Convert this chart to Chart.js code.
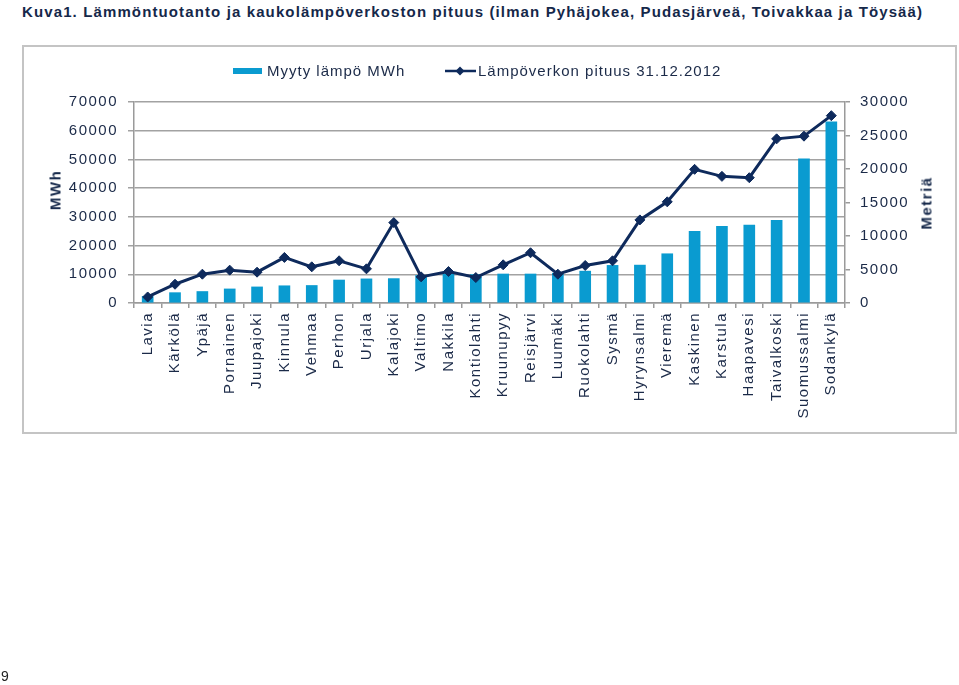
<!DOCTYPE html>
<html>
<head>
<meta charset="utf-8">
<script src="https://cdn.jsdelivr.net/npm/chart.js@4/dist/chart.umd.min.js"></script>
<style>
  html, body { margin: 0; padding: 0; background: #fff; }
  body { width: 959px; height: 685px; position: relative; overflow: hidden; font-family: "Liberation Sans", Arial, sans-serif; color: #1b2a48; }
  #title { position: absolute; left: 22px; top: 3px; font-size: 15px; font-weight: bold; letter-spacing: 1.12px; white-space: nowrap; color: #15284a; }
  #box { position: absolute; left: 22px; top: 45px; width: 931px; height: 385px; border: 2px solid #c4c4c4; box-sizing: content-box; }
  #wrap { position: absolute; left: 0; top: 0; width: 959px; height: 685px; }
  .leg { position: absolute; top: 62px; font-size: 15px; letter-spacing: 1px; white-space: nowrap; color: #1b2a48; }
  .ytitle { position: absolute; font-size: 15px; font-weight: bold; letter-spacing: 1.5px; white-space: nowrap; transform: translate(-50%, -50%) rotate(-90deg); color: #15284a; }
  #page { position: absolute; left: 1px; top: 668px; font-size: 14px; color: #222; }
</style>
</head>
<body>
<div id="title">Kuva1. Lämmöntuotanto ja kaukolämpöverkoston pituus (ilman Pyhäjokea, Pudasjärveä, Toivakkaa ja Töysää)</div>
<div id="box"></div>
<div id="wrap"><canvas id="c"></canvas></div>
<div class="leg" style="left:233px;"><span style="display:inline-block;width:29px;height:6px;background:#0a9bd0;vertical-align:middle;margin-right:5px;position:relative;top:-1px;"></span>Myyty lämpö MWh</div>
<div class="leg" style="left:445px;"><svg width="31" height="12" style="vertical-align:middle;margin-right:2px;position:relative;top:-1px;"><line x1="0" y1="6" x2="31" y2="6" stroke="#0e2a5c" stroke-width="2.5"/><polygon points="15,1.5 19.5,6 15,10.5 10.5,6" fill="#0e2a5c"/></svg>Lämpöverkon pituus 31.12.2012</div>
<div class="ytitle" style="left:55px;top:190px;">MWh</div>
<div class="ytitle" style="left:926px;top:203px;">Metriä</div>
<div id="page">9</div>
<script>
const categories = ["Lavia","Kärkölä","Ypäjä","Pornainen","Juupajoki","Kinnula","Vehmaa","Perhon","Urjala","Kalajoki","Valtimo","Nakkila","Kontiolahti","Kruunupyy","Reisjärvi","Luumäki","Ruokolahti","Sysmä","Hyrynsalmi","Vieremä","Kaskinen","Karstula","Haapavesi","Taivalkoski","Suomussalmi","Sodankylä"];
const soldHeatMWh = [2300,3600,4000,4900,5600,6000,6100,8000,8400,8500,9600,10100,9900,10100,10100,10400,11100,13100,13200,17150,25000,26700,27100,28800,50200,63100];
const networkLengthM = [900,2800,4300,4900,4600,6800,5400,6300,5100,12000,3900,4700,3800,5700,7500,4300,5600,6300,12400,15100,19950,18900,18700,24500,24900,27960];
const leftTicks = {min:0, max:70000, step:10000};
const rightTicks = {min:0, max:30000, step:5000};

const txt = '#1b2a48';
const fnt = {family: '"Liberation Sans", Arial, sans-serif', size: 15};
const plain = v => String(v);
const spacing = {
  id: 'spacing',
  beforeUpdate(c){ c.ctx.letterSpacing = '1.5px'; },
  beforeDraw(c){ c.ctx.letterSpacing = '1.5px'; }
};

new Chart(document.getElementById('c'), {
  type: 'bar',
  data: {
    labels: categories,
    datasets: [
      {type:'line', label:'Lämpöverkon pituus 31.12.2012', data: networkLengthM, yAxisID:'y1', order:0,
       borderColor:'#0e2a5c', backgroundColor:'#0e2a5c', borderWidth:3, pointStyle:'rectRot',
       pointRadius:5, pointBorderWidth:1, pointBackgroundColor:'#0e2a5c', tension:0, clip:false},
      {type:'bar', label:'Myyty lämpö MWh', data: soldHeatMWh, yAxisID:'y', order:1,
       backgroundColor:'#0a9bd0', barThickness:11}
    ]
  },
  plugins: [spacing],
  options: {
    responsive: true, maintainAspectRatio: false, animation: false,
    devicePixelRatio: 1,
    layout: {padding: {top: 102, left: 0, right: 0, bottom: 0}},
    plugins: {legend: {display:false}, tooltip: {enabled:false}},
    scales: {
      x: {
        offset: true,
        grid: {offset:true, drawOnChartArea:false, drawTicks:true, tickLength:5, color:'#9a9a9a', lineWidth:1.5},
        border: {display:true, color:'#9a9a9a', width:1.5},
        ticks: {autoSkip:false, maxRotation:90, minRotation:90, padding:4, color:txt, font:fnt},
        afterFit(s){ s.height = 685 - 303; }
      },
      y: {
        position:'left', min:leftTicks.min, max:leftTicks.max,
        ticks: {stepSize:leftTicks.step, padding:10, color:txt, font:fnt, callback: plain},
        grid: {color:'#a2a2a2', lineWidth:1.5, tickLength:6},
        border: {display:true, color:'#9a9a9a', width:1.5},
        afterFit(s){ s.width = 134; }
      },
      y1: {
        position:'right', min:rightTicks.min, max:rightTicks.max,
        ticks: {stepSize:rightTicks.step, padding:10, color:txt, font:fnt, callback: plain},
        grid: {drawOnChartArea:false, color:'#9a9a9a', lineWidth:1.5, tickLength:5},
        border: {display:true, color:'#9a9a9a', width:1.5},
        afterFit(s){ s.width = 959 - 845; }
      }
    }
  }
});
</script>
</body>
</html>
